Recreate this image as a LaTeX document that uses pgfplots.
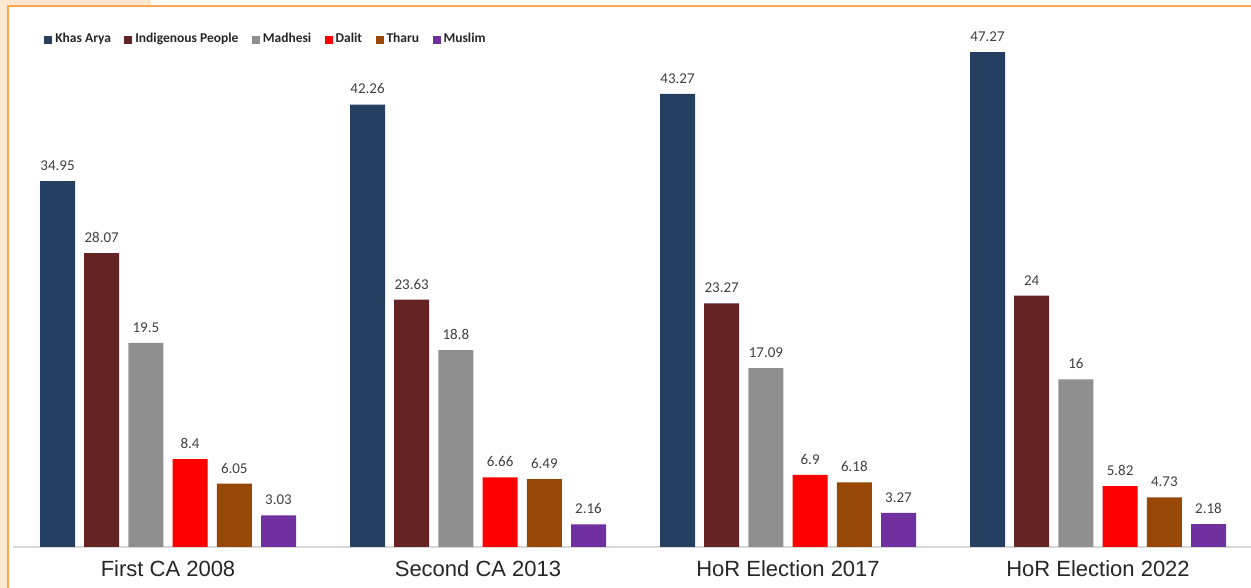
\documentclass[border=0pt]{standalone}
\usepackage{fontspec}
\setmainfont{Carlito}
\newfontfamily\arialfont{Liberation Sans}
\usepackage{pgfplots}
\pgfplotsset{compat=1.18}

\definecolor{khas}{HTML}{243F60}
\definecolor{indig}{HTML}{632423}
\definecolor{madh}{HTML}{8F8F8F}
\definecolor{dalit}{HTML}{FF0000}
\definecolor{tharu}{HTML}{974806}
\definecolor{musl}{HTML}{7030A0}
\definecolor{peach}{HTML}{FDE9D2}
\definecolor{frameor}{HTML}{F9A850}
\definecolor{txt}{HTML}{404040}

\pgfplotsset{
  sq/.style={legend image code/.code={\fill[##1] (0pt,-2pt) rectangle (4pt,2pt);}},
}

\begin{document}
\begin{tikzpicture}
% picture frame, 1px = 0.5pt
\path[use as bounding box] (0,0) rectangle (625.5pt,294pt);
\fill[peach] (0,0) rectangle (3.5pt,294pt);
\fill[peach] (0,291.5pt) rectangle (75.5pt,294pt);
\draw[frameor, line width=1pt] (4pt,0) -- (4pt,291pt) -- (625.5pt,291pt);

\begin{axis}[
  at={(6.5pt,20.5pt)}, anchor=south west,
  scale only axis,
  width=619pt, height=270.5pt,
  xmin=-0.5, xmax=3.4935,
  ymin=0, ymax=51.67,
  ybar, bar width=17.5pt,
  axis x line*=bottom,
  axis y line=none,
  x axis line style={draw=gray!30, line width=0.6pt},
  xtick={0,1,2,3},
  xticklabels={First CA 2008, Second CA 2013, HoR Election 2017, HoR Election 2022},
  major tick length=0pt,
  xticklabel style={font=\arialfont\fontsize{11}{13}\selectfont, text=black!85, anchor=base, yshift=-15pt},
  ytick=\empty,
  clip=false,
  /pgf/number format/assume math mode=true,
  nodes near coords,
  every node near coord/.append style={font=\fontsize{7.5}{9}\selectfont, text=txt, anchor=south, inner sep=0pt, yshift=5pt},
  legend columns=-1,
  legend cell align=left,
  legend style={at={(0.025,0.938)}, anchor=west, draw=none, fill=none, inner sep=0pt,
    font=\bfseries\fontsize{6.75}{8}\selectfont, text=black!85,
    nodes={inner sep=1.5pt},
    /tikz/every even column/.append style={column sep=5.2pt}},
]
\addplot[sq, fill=khas, draw=none, bar shift=-55.25pt] coordinates {(0,34.95) (1,42.26) (2,43.27) (3,47.27)};
\addplot[sq, fill=indig, draw=none, bar shift=-33.15pt] coordinates {(0,28.07) (1,23.63) (2,23.27) (3,24)};
\addplot[sq, fill=madh, draw=none, bar shift=-11.05pt] coordinates {(0,19.5) (1,18.8) (2,17.09) (3,16)};
\addplot[sq, fill=dalit, draw=none, bar shift=11.05pt] coordinates {(0,8.4) (1,6.66) (2,6.9) (3,5.82)};
\addplot[sq, fill=tharu, draw=none, bar shift=33.15pt] coordinates {(0,6.05) (1,6.49) (2,6.18) (3,4.73)};
\addplot[sq, fill=musl, draw=none, bar shift=55.25pt] coordinates {(0,3.03) (1,2.16) (2,3.27) (3,2.18)};
\legend{Khas Arya, Indigenous People, Madhesi, Dalit, Tharu, Muslim}
\end{axis}
\end{tikzpicture}
\end{document}
